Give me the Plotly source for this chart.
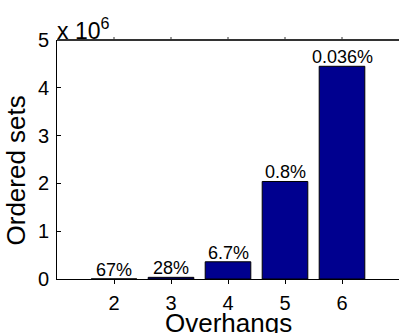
import plotly.graph_objects as go

overhangs = [2, 3, 4, 5, 6]
ordered_sets = [2000, 35000, 360000, 2040000, 4450000]
share_labels = ["67%", "28%", "6.7%", "0.8%", "0.036%"]
y_tick_vals = [0, 1e6, 2e6, 3e6, 4e6, 5e6]
y_tick_text = ["0", "1", "2", "3", "4", "5"]

FONT = "Liberation Sans, Arial, sans-serif"
PLOT_H = 333 - 40 - 54

fig = go.Figure()
fig.add_trace(go.Bar(
    x=overhangs, y=ordered_sets, width=0.8,
    marker=dict(color="#00008F", line=dict(color="#000000", width=1)),
))

annotations = []
for xv, yv, lab in zip(overhangs, ordered_sets, share_labels):
    annotations.append(dict(x=xv, y=yv, xref="x", yref="y", text=lab,
                            showarrow=False, xanchor="center", yanchor="bottom",
                            yshift=-3, font=dict(family=FONT, size=18, color="black")))
annotations.append(dict(text="x 10<sup>6</sup>", xref="paper", yref="paper",
                        x=0, y=1, xanchor="left", yanchor="bottom",
                        showarrow=False, font=dict(family=FONT, size=23),
                        xshift=-2, yshift=-6))
annotations.append(dict(text="Overhangs", xref="paper", yref="paper",
                        x=0.5, y=0, xanchor="center", yanchor="top",
                        showarrow=False, font=dict(family=FONT, size=26),
                        yshift=-27))
annotations.append(dict(text="Ordered sets", xref="paper", yref="paper",
                        x=0, y=0.5, xanchor="right", yanchor="middle", textangle=-90,
                        showarrow=False, font=dict(family=FONT, size=26),
                        xshift=-25, yshift=-11))

# box top edge and its ticks (MATLAB "box on" style)
shapes = [dict(type="line", xref="paper", yref="paper", x0=0, x1=1, y0=1, y1=1,
               line=dict(color="#333333", width=2))]
for xv in overhangs:
    shapes.append(dict(type="line", xref="x", yref="paper", x0=xv, x1=xv,
                       y0=1, y1=1 + 3 / PLOT_H, line=dict(color="#333333", width=1)))

fig.update_layout(
    width=399, height=333,
    margin=dict(l=57, r=0, t=40, b=54),
    paper_bgcolor="white", plot_bgcolor="white",
    showlegend=False,
    font=dict(family=FONT, size=20, color="black"),
    xaxis=dict(range=[1, 7], tickvals=overhangs, ticktext=[str(v) for v in overhangs],
               showline=True, linecolor="black", linewidth=1,
               ticks="outside", ticklen=4, tickcolor="black",
               showgrid=False, zeroline=False, automargin=False,
               ticklabelstandoff=2,
               tickfont=dict(size=20)),
    yaxis=dict(range=[0, 5e6], tickvals=y_tick_vals, ticktext=y_tick_text,
               showline=True, linecolor="black", linewidth=1,
               ticks="inside", ticklen=4, tickcolor="black",
               showgrid=False, zeroline=False, automargin=False,
               ticklabelstandoff=3,
               tickfont=dict(size=20)),
    annotations=annotations,
    shapes=shapes,
)

fig.write_html("out.html", config={"displayModeBar": False},
               post_script="document.documentElement.style.overflow='hidden';"
                           "document.body.style.margin='0';document.body.style.overflow='hidden';")
